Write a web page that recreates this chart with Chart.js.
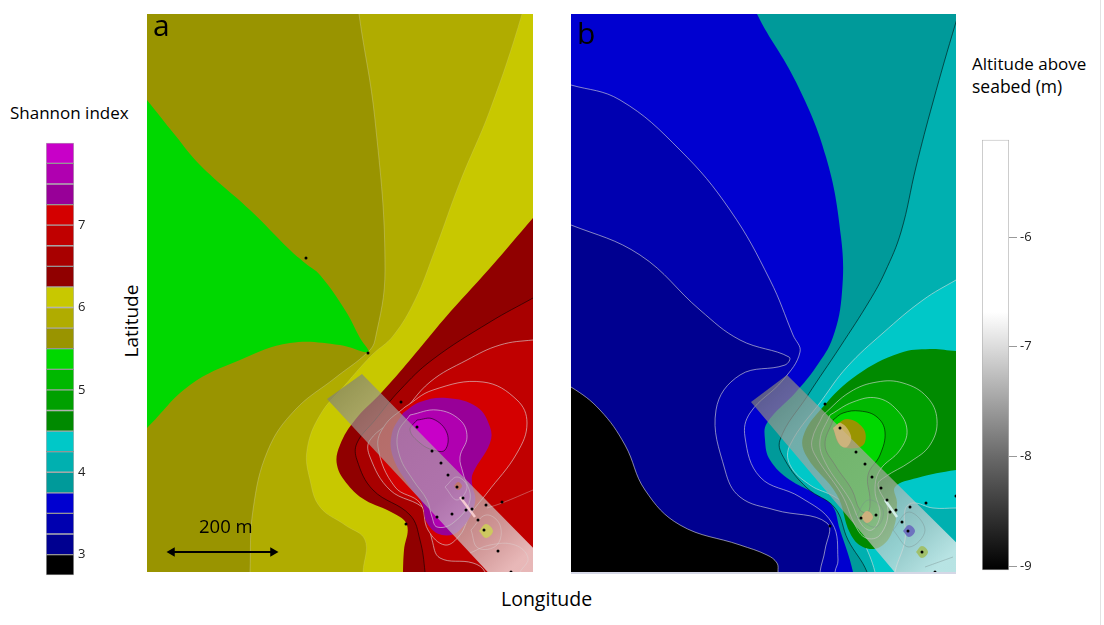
<!DOCTYPE html>
<html>
<head>
<meta charset="utf-8">
<title>Shannon index and altitude maps</title>
<script src="https://cdn.jsdelivr.net/npm/chart.js@4"></script>
<style>
    html, body { margin: 0; padding: 0; background: #fff; }
    body { position: relative; width: 1104px; height: 625px; overflow: hidden; font-family: "Open Sans", sans-serif; color: #000; }
    canvas { position: absolute; display: block; }
    .txt { position: absolute; white-space: nowrap; line-height: 1; }
    #edge { position: absolute; left: 1100px; top: 0; width: 1px; height: 625px; background: #e2e2e2; }
    #floor { position: absolute; left: 571px; top: 572px; width: 385px; height: 2px; background: #d5d7e6; }
</style>
</head>
<body>
<canvas id="scaleA" style="left:46px;top:131px"></canvas>
<canvas id="mapA" style="left:147px;top:14px"></canvas>
<div id="floor"></div>
<canvas id="mapB" style="left:571px;top:14px"></canvas>
<canvas id="scaleB" style="left:982px;top:129px"></canvas>
<div id="edge"></div>

<div class="txt" style="left:10px;top:104px;font-size:17px">Shannon index</div>
<div class="txt" style="left:972px;top:55px;font-size:17px">Altitude above</div>
<div class="txt" style="left:972px;top:78px;font-size:17.5px">seabed (m)</div>
<div class="txt" style="left:501px;top:589px;font-size:19.5px">Longitude</div>
<div class="txt" style="left:131px;top:321px;font-size:19px;transform:translate(-50%,-50%) rotate(-90deg)">Latitude</div>
<div class="txt" style="left:153px;top:10px;font-size:30px">a</div>
<div class="txt" style="left:577px;top:18px;font-size:30px">b</div>
<div class="txt" style="left:199px;top:517px;font-size:18.5px">200 m</div>

<script>
// colour levels of the Shannon scale, bottom to top
var shannonEdges = [2.75, 3, 3.25, 3.5, 3.75, 4, 4.25, 4.5, 4.75, 5, 5.25, 5.5, 5.75, 6, 6.25, 6.5, 6.75, 7, 7.25, 7.5, 7.75, 8];
var shannonColors = ["#000000", "#000090", "#0000b0", "#0000d0", "#009a9a", "#00b0b0", "#00c8c8", "#008a00", "#00a000", "#00b800", "#00d800", "#999400", "#b0ac00", "#c8c800", "#900000", "#a80000", "#c00000", "#d40000", "#980098", "#b000b0", "#c800c8"];
var shannonTicks = [3, 4, 5, 6, 7];
var altitudeRange = [-9.037, -5.114];
var altitudeTicks = [-9, -8, -7, -6];

// map grid: easting, northing from the SW corner of a panel
var gridEast = 386;
var gridNorth = 558;

// panel a, contour regions
var aMid = [[212, 570], [212, 558], [228, 452], [238, 302], [228, 232], [221, 220], [188, 194], [148, 162], [121, 122], [106, 62], [103, 0], [103, -15], [400, -15], [400, 570], [212, 570]];
var aGreen = [[-15, 490], [0, 472], [28, 437], [53, 407], [103, 362], [143, 322], [158, 309], [173, 297], [198, 262], [213, 234], [221, 220], [193, 227], [143, 229], [93, 212], [43, 187], [0, 144], [-15, 130], [-15, 490]];
var aYellow = [[375, 570], [375, 558], [343, 462], [313, 390], [288, 322], [268, 272], [246, 236], [225, 217], [198, 187], [173, 157], [160, 122], [163, 92], [173, 65], [198, 47], [218, 32], [216, 0], [216, -15], [400, -15], [400, 570], [375, 570]];
var aRed1 = [[400, 370], [386, 354], [343, 304], [298, 254], [263, 212], [235, 180], [208, 152], [193, 127], [190, 107], [201, 87], [218, 72], [246, 59], [260, 47], [257, 22], [256, 0], [256, -15], [400, -15], [400, 370]];
var aRed2 = [[400, 282], [386, 274], [343, 250], [285, 212], [253, 182], [228, 152], [210, 129], [210, 112], [226, 82], [263, 57], [273, 32], [278, 0], [278, -15], [400, -15], [400, 282]];
var aRed3 = [[400, 232], [386, 232], [353, 227], [320, 212], [283, 190], [253, 157], [223, 132], [223, 115], [243, 82], [278, 62], [285, 32], [293, 14], [326, 9], [338, 0], [338, -15], [400, -15], [400, 232]];
var aRed4 = [[258, 165], [286, 182], [336, 190], [370, 172], [380, 149], [370, 119], [340, 79], [323, 57], [313, 37], [298, 27], [281, 42], [273, 69], [248, 85], [231, 125], [238, 147], [258, 165]];
var aPurple1 = [[256, 159], [273, 170], [300, 174], [330, 165], [343, 145], [343, 129], [326, 99], [325, 89], [328, 69], [313, 42], [295, 37], [280, 49], [275, 69], [263, 85], [246, 115], [245, 139], [256, 159]];
var aPurple2 = [[263, 157], [290, 162], [313, 152], [320, 135], [313, 115], [316, 99], [323, 72], [306, 49], [290, 45], [285, 55], [280, 72], [266, 92], [253, 115], [251, 139], [263, 157]];
var aPurple3 = [[270, 152], [286, 153], [300, 139], [298, 122], [286, 122], [273, 129], [263, 142], [270, 152]];
var aBand = [[180, 173], [215, 198], [400, 10], [400, -10], [350, -10], [180, 173]];
var aPatchOlive = [[332, 41], [339, 48], [346, 41], [339, 34], [332, 41]];
var aPatchRed = [[307, 86], [311, 90], [315, 86], [311, 82], [307, 86]];
var aStreak = [[313, 75], [328, 55]];
var aContours = [
    [[386, 82], [355, 69], [340, 64]],
    [[323, 19], [343, 27], [368, 27], [381, 14], [373, 0]],
    [[324, 42], [339, 57], [353, 47], [350, 27], [331, 24], [324, 42]],
    [[298, 85], [310, 95], [320, 85], [310, 72], [298, 85]]
];
var aSamples = [[159, 314], [221, 219], [254, 170], [270, 145], [285, 121], [294, 109], [301, 97], [310, 85], [316, 74], [339, 67], [355, 70], [325, 63], [319, 62], [305, 58], [290, 55], [259, 48], [331, 52], [337, 42], [351, 21], [364, 0]];

// panel b, contour regions
var bMid = [[-15, 490], [0, 487], [49, 472], [109, 422], [159, 362], [199, 292], [222, 237], [229, 220], [212, 192], [179, 159], [174, 135], [189, 95], [229, 75], [261, 49], [267, 12], [264, 0], [264, -15], [-15, -15], [-15, 490]];
var bDeep = [[-15, 350], [0, 347], [69, 317], [129, 262], [169, 232], [218, 215], [214, 207], [169, 197], [145, 162], [154, 102], [169, 75], [204, 62], [256, 49], [254, 22], [249, 0], [249, -15], [-15, -15], [-15, 350]];
var bBlack = [[-15, 190], [0, 185], [29, 162], [54, 127], [74, 82], [109, 47], [169, 27], [196, 17], [206, 9], [207, 0], [207, -15], [-15, -15], [-15, 190]];
var bTeal1 = [[186, 570], [186, 558], [225, 490], [255, 415], [270, 335], [271, 280], [262, 235], [245, 205], [225, 180], [196, 149], [194, 132], [199, 112], [219, 92], [259, 69], [269, 42], [282, 0], [282, -15], [400, -15], [400, 570], [186, 570]];
var bTeal2 = [[392, 570], [385, 550], [362, 470], [345, 405], [330, 340], [314, 300], [299, 272], [269, 225], [237, 177], [209, 132], [214, 112], [236, 84], [264, 64], [277, 32], [296, 0], [296, -15], [400, -15], [400, 570], [392, 570]];
var bCyan = [[400, 300], [385, 292], [352, 272], [312, 239], [276, 205], [251, 172], [219, 127], [219, 107], [239, 87], [264, 75], [279, 62], [292, 32], [304, 0], [304, -15], [324, -15], [324, 0], [334, 32], [334, 62], [342, 69], [362, 64], [385, 64], [400, 64], [400, 300]];
var bGreen1 = [[400, 221], [385, 221], [359, 223], [329, 219], [286, 197], [251, 164], [232, 135], [236, 115], [266, 77], [279, 39], [292, 25], [309, 25], [322, 42], [326, 69], [324, 85], [346, 94], [385, 102], [400, 102], [400, 221]];
var bGreen2 = [[252, 157], [279, 180], [306, 190], [332, 189], [356, 175], [366, 152], [359, 127], [339, 110], [314, 95], [307, 87], [317, 62], [309, 37], [295, 34], [284, 47], [271, 77], [244, 117], [241, 132], [252, 157]];
var bGreen3 = [[259, 157], [282, 170], [306, 174], [326, 162], [336, 142], [329, 122], [309, 102], [304, 82], [309, 57], [301, 42], [291, 47], [279, 72], [254, 110], [249, 132], [259, 157]];
var bGreen4 = [[262, 152], [272, 159], [289, 161], [306, 155], [314, 140], [309, 117], [297, 97], [299, 72], [297, 60], [289, 62], [281, 82], [264, 107], [254, 127], [262, 152]];
var bOlive = [[262, 144], [276, 153], [292, 144], [294, 130], [286, 124], [269, 127], [262, 144]];
var bBand = [[180, 170], [216, 197], [400, 15], [400, -10], [332, -10], [180, 170]];
var bPatchPeach = [[262, 144], [270, 149], [280, 136], [276, 125], [269, 127], [262, 144]];
var bPatchOrange = [[290, 55], [296, 61], [302, 55], [296, 49], [290, 55]];
var bPatchBlue = [[332, 41], [338, 47], [344, 41], [338, 35], [332, 41]];
var bPatchOlive = [[345, 20], [351, 26], [357, 20], [351, 14], [345, 20]];
var bStreak = [[314, 72], [326, 55]];
var bContours = [
    [[322, 42], [338, 60], [354, 42], [338, 25], [322, 42]],
    [[354, 5], [382, 15]],
    [[285, 55], [297, 72], [312, 62], [305, 45], [285, 55]]
];
var bSamples = [[254, 168], [269, 144], [285, 120], [294, 108], [301, 95], [310, 84], [316, 72], [355, 69], [385, 76], [339, 65], [325, 62], [319, 60], [305, 57], [290, 54], [259, 46], [331, 50], [337, 41], [351, 20], [364, 0]];

// scale arrow on panel a
var scaleArrow = [[25, 20], [126, 20]];

var PALE = "rgba(222,222,222,0.75)";
var FAINT = "rgba(222,222,222,0.35)";
var DARK = "rgba(0,0,0,0.7)";

function pts(rows) {
    return rows.map(function (r) { return { x: r[0], y: r[1] }; });
}

function region(rows, color, edge) {
    return {
        data: pts(rows),
        showLine: true,
        fill: "shape",
        tension: 0.4,
        backgroundColor: color,
        borderColor: edge || "transparent",
        borderWidth: edge ? 0.8 : 0,
        pointRadius: 0
    };
}

function plate(rows, color) {
    var d = region(rows, color);
    d.tension = 0;
    return d;
}

function contourLine(rows, color, width) {
    return {
        data: pts(rows),
        showLine: true,
        fill: false,
        tension: 0.4,
        borderColor: color,
        borderWidth: width || 0.8,
        pointRadius: 0
    };
}

function dots(rows) {
    return {
        data: pts(rows),
        showLine: false,
        clip: false,
        pointRadius: 1.5,
        pointBorderWidth: 0,
        pointBackgroundColor: "#000"
    };
}

function bandGradient(ctx) {
    var g = ctx.createLinearGradient(198, 372, 368, 551);
    g.addColorStop(0, "rgba(130,130,120,0.7)");
    g.addColorStop(0.2, "rgba(165,160,155,0.68)");
    g.addColorStop(0.6, "rgba(175,170,170,0.68)");
    g.addColorStop(0.85, "rgba(215,215,215,0.7)");
    g.addColorStop(1, "rgba(245,245,245,0.75)");
    return g;
}

function drawMap(id, width, base, layers) {
    var canvas = document.getElementById(id);
    canvas.width = width;
    canvas.height = gridNorth;
    canvas.style.background = base;
    // later entries sit on top of earlier ones
    layers.forEach(function (d, i) { d.order = layers.length - i; });
    return new Chart(canvas, {
        type: "scatter",
        data: { datasets: layers },
        options: {
            responsive: false,
            animation: false,
            events: [],
            layout: { autoPadding: false },
            scales: {
                x: { display: false, type: "linear", min: 0, max: width },
                y: { display: false, type: "linear", min: 0, max: gridNorth }
            },
            plugins: { legend: { display: false }, tooltip: { enabled: false } }
        }
    });
}

var ctxA = document.getElementById("mapA").getContext("2d");
var ctxB = document.getElementById("mapB").getContext("2d");

var arrow = {
    data: pts(scaleArrow),
    showLine: true,
    fill: false,
    tension: 0,
    borderColor: "#000",
    borderWidth: 2.2,
    pointStyle: "triangle",
    pointRadius: 5.5,
    pointBorderWidth: 0,
    pointBackgroundColor: "#000",
    pointRotation: [-90, 90]
};

var layersA = [
    region(aMid, shannonColors[12], FAINT),
    region(aGreen, shannonColors[10]),
    region(aYellow, shannonColors[13], "rgba(222,222,222,0.2)"),
    region(aRed1, shannonColors[14]),
    region(aRed2, shannonColors[15], DARK),
    region(aRed3, shannonColors[16], PALE),
    region(aRed4, shannonColors[17], PALE),
    region(aPurple1, shannonColors[18]),
    region(aPurple2, shannonColors[19], PALE),
    region(aPurple3, shannonColors[20], DARK),
    plate(aBand, bandGradient(ctxA)),
    region(aPatchOlive, "rgba(205,205,90,0.9)"),
    region(aPatchRed, "rgba(195,120,100,0.9)"),
    contourLine(aStreak, "rgba(255,215,215,0.85)", 2.5)
];
aContours.forEach(function (line) { layersA.push(contourLine(line, "rgba(222,222,222,0.45)")); });
layersA.push(dots(aSamples));
layersA.push(arrow);
drawMap("mapA", gridEast, shannonColors[11], layersA);

var layersB = [
    region(bMid, shannonColors[2], PALE),
    region(bDeep, shannonColors[1], PALE),
    region(bBlack, shannonColors[0], PALE),
    region(bTeal1, shannonColors[4]),
    region(bTeal2, shannonColors[5], DARK),
    region(bCyan, shannonColors[6], PALE),
    region(bGreen1, shannonColors[7]),
    region(bGreen2, shannonColors[8], PALE),
    region(bGreen3, shannonColors[9], PALE),
    region(bGreen4, shannonColors[10], DARK),
    region(bOlive, shannonColors[11]),
    plate(bBand, bandGradient(ctxB)),
    region(bPatchPeach, "rgba(218,186,130,0.75)"),
    region(bPatchOrange, "rgba(215,175,125,0.9)"),
    region(bPatchBlue, "rgba(105,105,190,0.9)"),
    region(bPatchOlive, "rgba(160,190,95,0.9)"),
    contourLine(bStreak, "rgba(225,250,250,0.85)", 2.5)
];
bContours.forEach(function (line) { layersB.push(contourLine(line, "rgba(120,140,140,0.5)")); });
layersB.push(dots(bSamples));
drawMap("mapB", gridEast - 1, shannonColors[3], layersB);

// Shannon colour bar
var scaleA = document.getElementById("scaleA");
scaleA.width = 60;
scaleA.height = 456;
new Chart(scaleA, {
    type: "bar",
    data: {
        labels: ["Shannon"],
        datasets: shannonColors.map(function (col, i) {
            return {
                data: [[shannonEdges[i], shannonEdges[i + 1]]],
                backgroundColor: col,
                borderColor: "rgba(0,0,0,0.3)",
                borderWidth: 1,
                borderSkipped: false,
                grouped: false,
                barPercentage: 1,
                categoryPercentage: 1
            };
        })
    },
    options: {
        responsive: false,
        animation: false,
        events: [],
        scales: {
            x: { display: false },
            y: {
                position: "right",
                min: shannonEdges[0],
                max: shannonEdges[shannonEdges.length - 1],
                afterBuildTicks: function (axis) {
                    axis.ticks = shannonTicks.map(function (v) { return { value: v }; });
                },
                afterFit: function (axis) { axis.width = 32; },
                grid: { display: false, drawTicks: false },
                border: { display: false },
                ticks: { color: "#222", padding: 4, font: { family: "Open Sans", size: 13 }, callback: function (v) { return v; } }
            }
        },
        plugins: { legend: { display: false }, tooltip: { enabled: false } }
    }
});

// altitude colour bar
var scaleB = document.getElementById("scaleB");
scaleB.width = 70;
scaleB.height = 452;
var ctxS = scaleB.getContext("2d");
var ramp = ctxS.createLinearGradient(0, 11, 0, 441);
ramp.addColorStop(0, "#ffffff");
ramp.addColorStop(0.4, "#ffffff");
ramp.addColorStop(0.48, "#dcdcdc");
ramp.addColorStop(0.735, "#6a6a6a");
ramp.addColorStop(1, "#000000");
new Chart(scaleB, {
    type: "bar",
    data: {
        labels: ["Altitude"],
        datasets: [{
            data: [altitudeRange],
            backgroundColor: ramp,
            borderColor: "#b4b4b4",
            borderWidth: 1,
            borderSkipped: false,
            barPercentage: 1,
            categoryPercentage: 1
        }]
    },
    options: {
        responsive: false,
        animation: false,
        events: [],
        scales: {
            x: { display: false },
            y: {
                position: "right",
                min: altitudeRange[0],
                max: altitudeRange[1],
                afterBuildTicks: function (axis) {
                    axis.ticks = altitudeTicks.map(function (v) { return { value: v }; });
                },
                afterFit: function (axis) { axis.width = 43; },
                grid: { drawOnChartArea: false, color: "#999", tickLength: 8, tickWidth: 1 },
                border: { display: false },
                ticks: { color: "#222", padding: 3, font: { family: "Open Sans", size: 13 }, callback: function (v) { return v; } }
            }
        },
        plugins: { legend: { display: false }, tooltip: { enabled: false } }
    }
});
</script>
</body>
</html>
